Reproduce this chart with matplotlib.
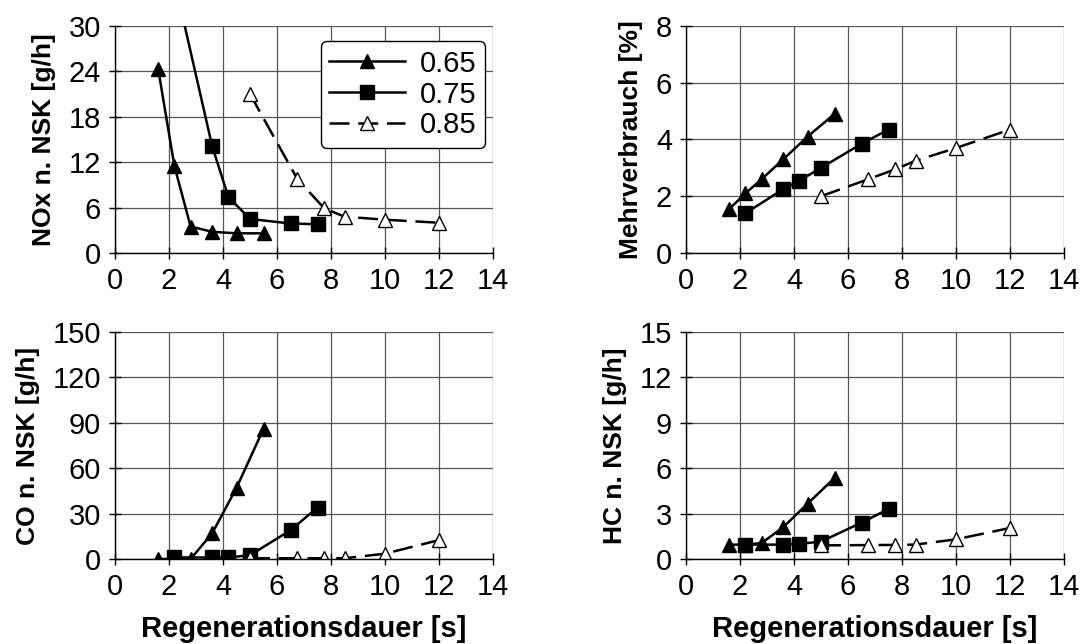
import matplotlib
matplotlib.use('Agg')
import matplotlib.pyplot as plt

plt.rcParams['font.family'] = ['Liberation Sans', 'DejaVu Sans']

# Regenerationsdauer [s] per lambda series
x_065 = [1.6, 2.2, 2.8, 3.6, 4.5, 5.5]
x_075 = [2.2, 3.6, 4.2, 5.0, 6.5, 7.5]
x_085 = [5.0, 6.75, 7.75, 8.5, 10.0, 12.0]

# NOx n. NSK [g/h]
nox_065 = [24.3, 11.5, 3.5, 2.8, 2.6, 2.6]
nox_075 = [36.0, 14.1, 7.4, 4.5, 3.9, 3.8]
nox_085 = [21.0, 9.8, 5.9, 4.8, 4.4, 4.0]

# Mehrverbrauch [%]
mv_065 = [1.55, 2.1, 2.6, 3.3, 4.1, 4.9]
mv_075 = [1.4, 2.25, 2.55, 3.0, 3.85, 4.35]
mv_085 = [2.0, 2.6, 2.95, 3.25, 3.7, 4.35]

# CO n. NSK [g/h]
co_065 = [0.0, 0.0, 0.0, 17.0, 47.0, 86.0]
co_075 = [1.0, 1.0, 1.0, 2.5, 19.0, 34.0]
co_085 = [0.5, 0.5, 0.5, 0.5, 3.5, 12.5]

# HC n. NSK [g/h]
hc_065 = [0.95, 0.95, 1.05, 2.1, 3.65, 5.35]
hc_075 = [0.95, 0.95, 1.0, 1.15, 2.4, 3.3]
hc_085 = [0.9, 0.92, 0.93, 0.95, 1.3, 2.05]

labels = ['0.65', '0.75', '0.85']

fig = plt.figure(figsize=(10.84, 6.44), dpi=100)
W, H = 1084.0, 644.0


def make_ax(left, top, right, bottom):
  return fig.add_axes([left / W, 1 - bottom / H, (right - left) / W, (bottom - top) / H])


ax_nox = make_ax(115, 26, 493, 253)
ax_mv = make_ax(686, 26, 1064, 253)
ax_co = make_ax(115, 332, 493, 559)
ax_hc = make_ax(686, 332, 1064, 559)

panels = [
  (ax_nox, nox_065, nox_075, nox_085, 30, 6, 'NOx n. NSK [g/h]'),
  (ax_mv, mv_065, mv_075, mv_085, 8, 2, 'Mehrverbrauch [%]'),
  (ax_co, co_065, co_075, co_085, 150, 30, 'CO n. NSK [g/h]'),
  (ax_hc, hc_065, hc_075, hc_085, 15, 3, 'HC n. NSK [g/h]'),
]

for ax, y1, y2, y3, ymax, ystep, ylab in panels:
  ax.plot(x_065, y1, color='black', lw=1.8, marker='^', ms=10.5, mfc='black', mec='black', label=labels[0])
  ax.plot(x_075, y2, color='black', lw=1.8, marker='s', ms=10, mfc='black', mec='black', label=labels[1])
  ax.plot(x_085, y3, color='black', lw=1.8, marker='^', ms=10.5, mfc='white', mec='black', mew=1.0,
          dashes=(8, 3.5), label=labels[2])
  ax.set_xlim(0, 14)
  ax.set_ylim(0, ymax)
  ax.set_xticks(range(0, 15, 2))
  ax.set_yticks(range(0, ymax + 1, ystep))
  ax.grid(True, color='#555555', lw=0.9)
  ax.set_axisbelow(True)
  for s in ['top', 'right']:
    ax.spines[s].set_visible(False)
  for s in ['left', 'bottom']:
    ax.spines[s].set_linewidth(1.0)
  ax.tick_params(direction='inout', length=8, width=1.0, labelsize=21, pad=6)
  ax.set_ylabel(ylab, fontsize=19, fontweight='bold', labelpad=9)

for ax in [ax_co, ax_hc]:
  ax.set_xlabel('Regenerationsdauer [s]', fontsize=21, fontweight='bold', labelpad=10)

leg = ax_nox.legend(loc='upper right', bbox_to_anchor=(0.995, 0.96), fontsize=21, frameon=True,
                    fancybox=True, edgecolor='black', framealpha=1, handlelength=2.6,
                    borderpad=0.3, labelspacing=0.1, handletextpad=0.5, borderaxespad=0.2)
leg.get_frame().set_linewidth(1.0)

plt.savefig('out.png', dpi=100)
